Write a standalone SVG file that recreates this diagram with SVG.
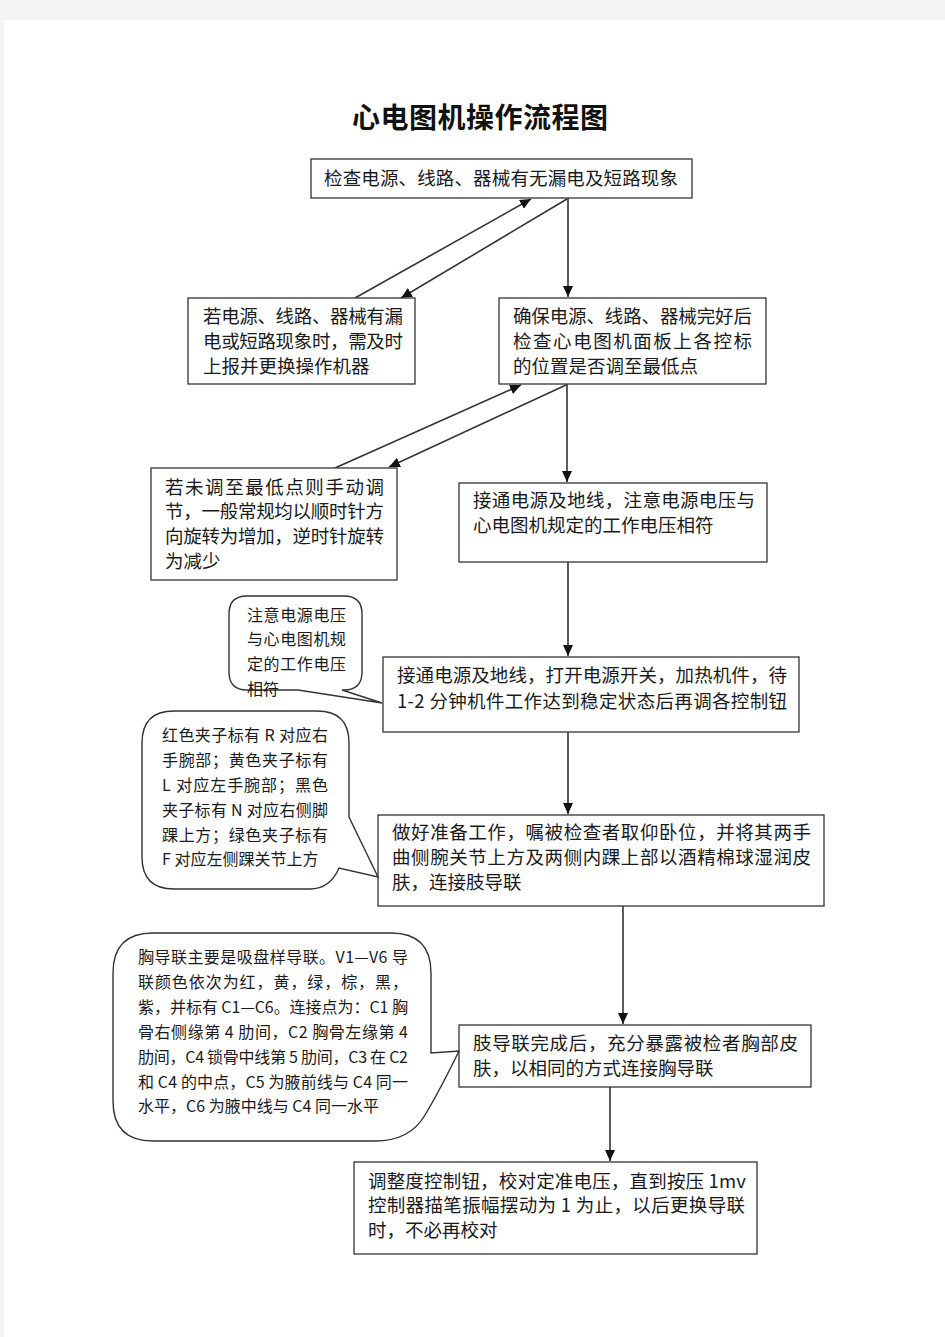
<svg xmlns="http://www.w3.org/2000/svg" width="945" height="1337" viewBox="0 0 945 1337">
<defs>
<style>
.bx{fill:#fff;stroke:#333;stroke-width:1.3}
.cl{fill:#fff;stroke:#333;stroke-width:1.4}
.t{font-family:"Noto Sans CJK SC","Liberation Serif",sans-serif;font-size:18.5px;fill:#1a1a1a}
.s{font-family:"Noto Sans CJK SC","Liberation Serif",sans-serif;font-size:16px;fill:#1a1a1a}
.ln{stroke:#333;stroke-width:1.6;fill:none;marker-end:url(#ah)}
</style>
<marker id="ah" markerUnits="userSpaceOnUse" markerWidth="12" markerHeight="10" refX="11" refY="5" orient="auto">
<path d="M0,0 L11,5 L0,10 Z" fill="#111"/>
</marker>
</defs>
<rect x="0" y="0" width="945" height="1337" fill="#f4f4f4"/>
<rect x="4" y="20" width="941" height="1317" fill="#fff"/>
<text x="352" y="128" textLength="256" lengthAdjust="spacing" font-family="Noto Sans CJK SC,sans-serif" font-size="28" font-weight="bold" fill="#111">心电图机操作流程图</text>

<g id="connectors">
<line class="ln" x1="355" y1="298" x2="531" y2="199"/>
<line class="ln" x1="567" y1="199" x2="401" y2="298"/>
<line class="ln" x1="568" y1="198" x2="568" y2="297"/>
<line class="ln" x1="335" y1="468" x2="521" y2="385"/>
<line class="ln" x1="566" y1="385" x2="389" y2="467"/>
<line class="ln" x1="567" y1="384" x2="567" y2="482"/>
<line class="ln" x1="568" y1="562" x2="568" y2="656"/>
<line class="ln" x1="568" y1="732" x2="568" y2="814"/>
<line class="ln" x1="623" y1="906" x2="623" y2="1024"/>
<line class="ln" x1="610" y1="1087" x2="610" y2="1161"/>
</g>

<g id="n1">
<rect class="bx" x="311" y="159" width="381" height="39"/>
<text class="t" x="324" y="185" textLength="354" lengthAdjust="spacing">检查电源、线路、器械有无漏电及短路现象</text>
</g>
<g id="n2">
<rect class="bx" x="188" y="298" width="227" height="86"/>
<text class="t" x="203" y="323" textLength="200" lengthAdjust="spacing">若电源、线路、器械有漏</text>
<text class="t" x="203" y="348" textLength="200" lengthAdjust="spacing">电或短路现象时，需及时</text>
<text class="t" x="203" y="373">上报并更换操作机器</text>
</g>
<g id="n3">
<rect class="bx" x="499" y="298" width="267" height="86"/>
<text class="t" x="513" y="323" textLength="239" lengthAdjust="spacing">确保电源、线路、器械完好后</text>
<text class="t" x="513" y="348" textLength="239" lengthAdjust="spacing">检查心电图机面板上各控标</text>
<text class="t" x="513" y="373">的位置是否调至最低点</text>
</g>
<g id="n4">
<rect class="bx" x="151" y="468" width="246" height="112"/>
<text class="t" x="165" y="494" textLength="219" lengthAdjust="spacing">若未调至最低点则手动调</text>
<text class="t" x="165" y="518" textLength="219" lengthAdjust="spacing">节，一般常规均以顺时针方</text>
<text class="t" x="165" y="543" textLength="219" lengthAdjust="spacing">向旋转为增加，逆时针旋转</text>
<text class="t" x="165" y="568">为减少</text>
</g>
<g id="n5">
<rect class="bx" x="459" y="483" width="308" height="79"/>
<text class="t" x="473" y="507" textLength="282" lengthAdjust="spacing">接通电源及地线，注意电源电压与</text>
<text class="t" x="473" y="532">心电图机规定的工作电压相符</text>
</g>
<g id="n6">
<rect class="bx" x="383" y="657" width="416" height="75"/>
<text class="t" x="397" y="682" textLength="390" lengthAdjust="spacing">接通电源及地线，打开电源开关，加热机件，待</text>
<text class="t" x="397" y="708" textLength="390" lengthAdjust="spacing">1-2 分钟机件工作达到稳定状态后再调各控制钮</text>
</g>
<g id="n7">
<rect class="bx" x="378" y="815" width="446" height="91"/>
<text class="t" x="392" y="839" textLength="419" lengthAdjust="spacing">做好准备工作，嘱被检查者取仰卧位，并将其两手</text>
<text class="t" x="392" y="864" textLength="419" lengthAdjust="spacing">曲侧腕关节上方及两侧内踝上部以酒精棉球湿润皮</text>
<text class="t" x="392" y="889">肤，连接肢导联</text>
</g>
<g id="n8">
<rect class="bx" x="459" y="1025" width="352" height="62"/>
<text class="t" x="473" y="1050" textLength="325" lengthAdjust="spacing">肢导联完成后，充分暴露被检者胸部皮</text>
<text class="t" x="473" y="1075">肤，以相同的方式连接胸导联</text>
</g>
<g id="n9">
<rect class="bx" x="354" y="1162" width="403" height="92"/>
<text class="t" x="368" y="1188" textLength="378" lengthAdjust="spacing">调整度控制钮，校对定准电压，直到按压 1mv</text>
<text class="t" x="368" y="1212" textLength="377" lengthAdjust="spacing">控制器描笔振幅摆动为 1 为止，以后更换导联</text>
<text class="t" x="368" y="1237">时，不必再校对</text>
</g>

<g id="c1">
<path class="cl" d="M247,596 H344 Q362,596 362,614 V672 Q362,690 344,690 H342 L382,703 L298,690 H247 Q229,690 229,672 V614 Q229,596 247,596 Z"/>
<text class="s" x="247" y="621" textLength="99" lengthAdjust="spacing">注意电源电压</text>
<text class="s" x="247" y="645" textLength="99" lengthAdjust="spacing">与心电图机规</text>
<text class="s" x="247" y="670" textLength="99" lengthAdjust="spacing">定的工作电压</text>
<text class="s" x="247" y="695">相符</text>
</g>
<g id="c2">
<path class="cl" d="M174,711 H317 Q349,711 349,743 V817 L378,877 L339,868 Q330,889 310,889 H174 Q142,889 142,857 V743 Q142,711 174,711 Z"/>
<text class="s" x="162" y="741" textLength="166" lengthAdjust="spacing">红色夹子标有 R 对应右</text>
<text class="s" x="162" y="766" textLength="166" lengthAdjust="spacing">手腕部；黄色夹子标有</text>
<text class="s" x="162" y="791" textLength="166" lengthAdjust="spacing">L  对应左手腕部；黑色</text>
<text class="s" x="162" y="816" textLength="166" lengthAdjust="spacing">夹子标有 N 对应右侧脚</text>
<text class="s" x="162" y="841" textLength="166" lengthAdjust="spacing">踝上方；绿色夹子标有</text>
<text class="s" x="162" y="865">F 对应左侧踝关节上方</text>
</g>
<g id="c3">
<path class="cl" d="M153,933 H391 Q431,933 431,973 V1053 L459,1051 Q440,1090 425,1115 Q410,1141 375,1141 H153 Q113,1141 113,1101 V973 Q113,933 153,933 Z"/>
<text class="s" x="138" y="963" textLength="270" lengthAdjust="spacing">胸导联主要是吸盘样导联。V1—V6 导</text>
<text class="s" x="138" y="988" textLength="270" lengthAdjust="spacing">联颜色依次为红，黄，绿，棕，黑，</text>
<text class="s" x="138" y="1013" textLength="270" lengthAdjust="spacing">紫，并标有 C1—C6。连接点为：C1 胸</text>
<text class="s" x="138" y="1038" textLength="270" lengthAdjust="spacing">骨右侧缘第 4 肋间，C2 胸骨左缘第 4</text>
<text class="s" x="138" y="1063" textLength="270" lengthAdjust="spacing">肋间，C4 锁骨中线第 5 肋间，C3 在 C2</text>
<text class="s" x="138" y="1088" textLength="270" lengthAdjust="spacing">和 C4 的中点，C5 为腋前线与 C4 同一</text>
<text class="s" x="138" y="1112">水平，C6 为腋中线与 C4 同一水平</text>
</g>
</svg>
